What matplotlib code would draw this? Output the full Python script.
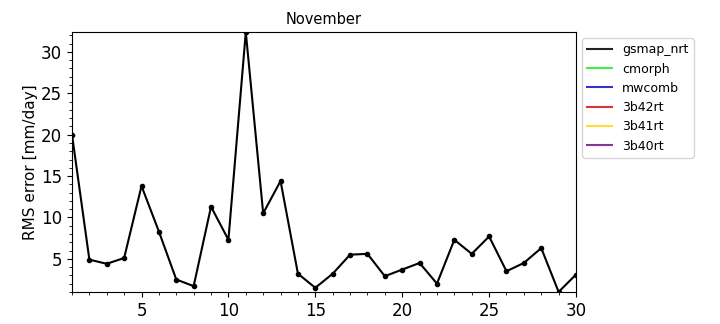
import numpy as np
import matplotlib
matplotlib.use("Agg")
import matplotlib.pyplot as plt
from matplotlib.ticker import AutoMinorLocator

# daily RMS error for November
days = np.arange(1, 31)
gsmap_nrt = [20.0, 4.9, 4.4, 5.1, 13.8, 8.3, 2.5, 1.7, 11.3, 7.3,
             32.4, 10.5, 14.4, 3.2, 1.5, 3.2, 5.5, 5.6, 2.9, 3.7,
             4.5, 2.0, 7.3, 5.6, 7.7, 3.5, 4.5, 6.3, 1.0, 3.1]

# products with no data this month (legend only)
series_names = ["gsmap_nrt", "cmorph", "mwcomb", "3b42rt", "3b41rt", "3b40rt"]
series_colors = ["#222222", "#44ee44", "#3333cc", "#dd3333", "#ffdd33", "#883399"]

fig = plt.figure(figsize=(7.2, 3.24), dpi=100)
ax = fig.add_axes([0.1, 0.099, 0.7, 0.802])

ax.plot(days, gsmap_nrt, color="black", marker="o", markersize=3, linewidth=1.5)
#dummy handles for the legend
handles = []
for name, col in zip(series_names, series_colors):
    h, = ax.plot([], [], color=col, linewidth=1.5, label=name)
    handles.append(h)

ax.set_xlim(days[0], days[-1])
ax.set_ylim(min(gsmap_nrt), max(gsmap_nrt))
ax.set_xticks([5, 10, 15, 20, 25, 30])
ax.set_yticks([5, 10, 15, 20, 25, 30])
ax.xaxis.set_minor_locator(AutoMinorLocator(5))
ax.yaxis.set_minor_locator(AutoMinorLocator(5))
ax.tick_params(labelsize=12)
ax.set_ylabel("RMS error [mm/day]", fontsize=11, labelpad=2)
ax.set_title("November", fontsize=10.5)

ax.legend(handles=handles, loc="upper left", bbox_to_anchor=(1.0, 1.0),
          fontsize=9, frameon=True)

fig.savefig("out.png", dpi=100)
